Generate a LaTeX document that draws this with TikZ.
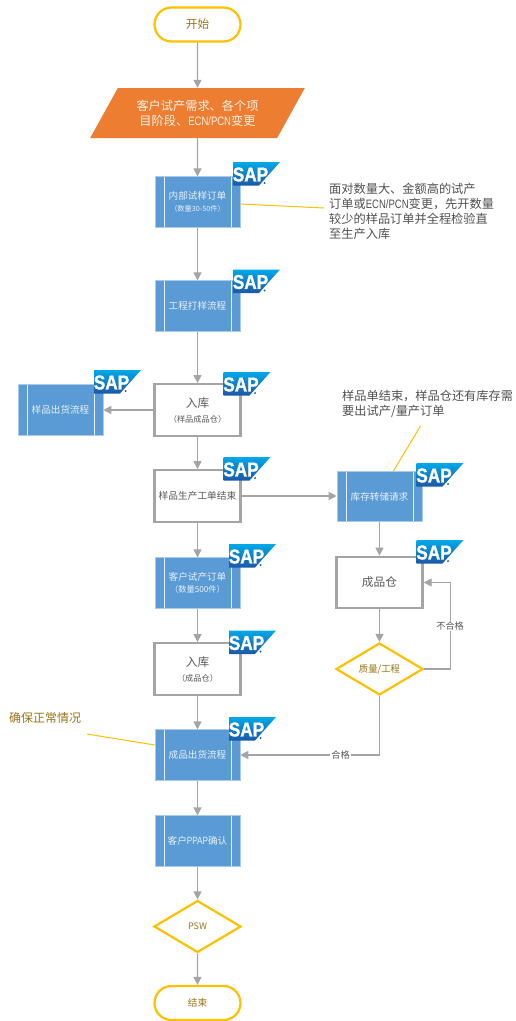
\documentclass[tikz,border=0pt]{standalone}
\usepackage{fontspec}
\setmainfont{Noto Sans CJK SC}
\newfontfamily\sapfont[FakeStretch=0.86, BoldFeatures={FakeBold=1.2}]{Liberation Sans}
\newfontfamily\narrowfont[FakeStretch=0.78]{Liberation Sans}
\usetikzlibrary{calc,arrows.meta,shapes.geometric,shapes.misc}
\definecolor{flowgray}{HTML}{A5A5A5}
\definecolor{flowgold}{HTML}{FFC000}
\definecolor{flowblue}{HTML}{5B9BD5}
\definecolor{flowedge}{HTML}{A9CBEA}
\definecolor{floworange}{HTML}{ED7D31}
\definecolor{goldtext}{HTML}{9A7518}
\definecolor{graytext}{HTML}{595959}
\definecolor{sapsky}{HTML}{00A9E8}
\definecolor{sapnavy}{HTML}{1C57A8}
\def\subline#1{{\fontsize{8.2}{10}\selectfont #1}}
\def\saplogo(#1)(#2){
	\shade[top color=sapsky, bottom color=sapnavy] (#2) -- ++(47, 0) -- ++(-21, 23.5) -- ++(-26, 0) -- cycle;
	\node[saptext] (#1) at ($(#2)+(17.5, 12.5)$) {SAP};
	\fill[sapnavy] ($(#2)+(31.6, 21)$) circle (1.1);
}
\tikzset{
	flowline/.style={color=flowgray, line width=1.2pt, -{Triangle[width=8pt, length=8pt]}},
	noteline/.style={color=flowgold, line width=1pt},
	saptext/.style={inner sep=0pt, text=white, font=\sapfont\bfseries\fontsize{20}{20}\selectfont},
	terminal/.style={rounded rectangle, draw=flowgold, line width=2.2pt, fill=white, minimum width=86pt, minimum height=34pt, inner sep=0pt, text=goldtext, font=\fontsize{9.6}{12}\selectfont},
	decision/.style={diamond, aspect=1.65, draw=flowgold, line width=2.2pt, fill=white, minimum width=87pt, minimum height=52pt, inner sep=0pt, text=goldtext, font=\fontsize{9.4}{12}\selectfont},
	inputbox/.style={trapezium, trapezium left angle=51, trapezium right angle=129, trapezium stretches=true, fill=floworange, minimum width=215pt, minimum height=50pt, inner sep=0pt, align=center, text=white!90!floworange, font=\fontsize{12.2}{14.8}\selectfont},
	procbox/.style={rectangle, draw=flowedge, line width=0.6pt, fill=flowblue, minimum width=85pt, minimum height=50.5pt, inner sep=0pt, align=center, text=white!85!flowblue, font=\fontsize{9.6}{11.5}\selectfont,
		path picture={
			\draw[white!85!flowblue, line width=1pt] ($(path picture bounding box.north west)+(9, 0)$) -- ($(path picture bounding box.south west)+(9, 0)$);
			\draw[white!85!flowblue, line width=1pt] ($(path picture bounding box.north east)+(-9, 0)$) -- ($(path picture bounding box.south east)+(-9, 0)$);
		}},
	storebox/.style={rectangle, draw=flowgray, line width=2.3pt, fill=white, minimum width=86pt, minimum height=51.5pt, inner sep=0pt, align=center, text=graytext, font=\fontsize{11.7}{15}\selectfont},
	notetext/.style={inner sep=0pt, anchor=west, align=left, text=graytext!90!black, font=\fontsize{12.2}{14.8}\selectfont},
	flowlabel/.style={fill=white, inner sep=1pt, text=graytext, font=\fontsize{9.2}{11}\selectfont},
}

\begin{document}
\begin{tikzpicture}[x=1pt, y=-1pt]
			%%%%% START %%%%%
			\useasboundingbox (0, 0) rectangle (515, 1021);
			
			\node[terminal, font=\fontsize{11.7}{14}\selectfont] (start) at (197.5, 24.5) {开始};
			\node[inputbox] (demand) at (197.5, 113) {客户试产需求、各个项\\目阶段、{\narrowfont ECN/PCN}变更};
			\node[procbox] (sampleorder) at (197.5, 202) {内部试样订单\\{\fontsize{7.2}{10}\selectfont （数量30-50件）}};
			\node[procbox] (engineering) at (197.5, 306) {工程打样流程};
			\node[storebox] (samplestore) at (197.5, 410) {入库\\\subline{（样品成品仓）}};
			\node[procbox] (sampleship) at (60.5, 410) {样品出货流程};
			\node[storebox, font=\fontsize{9.7}{12}\selectfont] (sampleend) at (197.5, 496) {样品生产工单结束};
			\node[procbox] (transfer) at (379.5, 496.5) {库存转储请求};
			\node[procbox] (trialorder) at (197.5, 583) {客户试产订单\\\subline{（数量500件）}};
			\node[storebox] (finishstore) at (197.5, 669) {入库\\\subline{（成品仓）}};
			\node[storebox] (finished) at (379.5, 582.5) {成品仓};
			\node[decision] (quality) at (379.5, 669) {质量/工程};
			\node[procbox] (finishship) at (197.5, 755) {成品出货流程};
			\node[procbox] (ppap) at (197.5, 841) {客户{\narrowfont\fontsize{10.5}{11.5}\selectfont PPAP}确认};
			\node[decision, font=\fontsize{9}{10}\selectfont] (psw) at (197.5, 926.5) {PSW};
			\node[terminal] (finish) at (197.5, 1003) {结束};
			
			\node[notetext] (note1) at (329, 211.5) {面对数量大、金额高的试产\\订单或{\narrowfont ECN/PCN}变更，先开数量\\较少的样品订单并全程检验直\\至生产入库};
			\node[notetext] (note2) at (342, 404) {样品单结束，样品仓还有库存需\\要出试产/量产订单};
			\node[notetext, text=goldtext, font=\fontsize{12}{15}\selectfont] (note3) at (9, 718) {确保正常情况};
			
			\coordinate (note1end) at (324, 208);
			\coordinate (note2end) at (420.5, 426);
			\coordinate (note3end) at (87, 734);
			\draw[noteline] ([yshift=-2pt]sampleorder.east) -- (note1end);
			\draw[noteline] ([xshift=14pt]transfer.north) -- (note2end);
			\draw[noteline] ([yshift=10pt]finishship.west) -- (note3end);
			
			\draw[flowline] (start) -- (demand);
			\draw[flowline] (demand) -- (sampleorder);
			\draw[flowline] (sampleorder) -- (engineering);
			\draw[flowline] (engineering) -- (samplestore);
			\draw[flowline] (samplestore) -- (sampleship);
			\draw[flowline] (samplestore) -- (sampleend);
			\draw[flowline] (sampleend) -- (transfer.west |- sampleend);
			\draw[flowline] (sampleend) -- (trialorder);
			\draw[flowline] (trialorder) -- (finishstore);
			\draw[flowline] (finishstore) -- (finishship);
			\draw[flowline] (transfer) -- (finished);
			\draw[flowline] (finished) -- (quality);
			\draw[flowline] (finishship) -- (ppap);
			\draw[flowline] (ppap) -- (psw);
			\draw[flowline] (psw) -- (finish);
			\draw[flowline] (quality.east) -- ++(26, 0) |- (finished.east) node[flowlabel, pos=0.25] (failed) {不合格};
			\draw[flowline] (quality.south) |- (finishship.east) node[flowlabel, pos=0.64] (passed) {合格};
			
			\saplogo(sap1)(233, 162)
			\saplogo(sap2)(233, 269.5)
			\saplogo(sap3)(94, 370)
			\saplogo(sap4)(223.5, 372)
			\saplogo(sap5)(223.5, 457)
			\saplogo(sap6)(416.5, 463)
			\saplogo(sap7)(416.5, 540)
			\saplogo(sap8)(229, 544)
			\saplogo(sap9)(229, 630.5)
			\saplogo(sap10)(229, 717)
			
			%%%%% END %%%%%
		\end{tikzpicture}
\end{document}
